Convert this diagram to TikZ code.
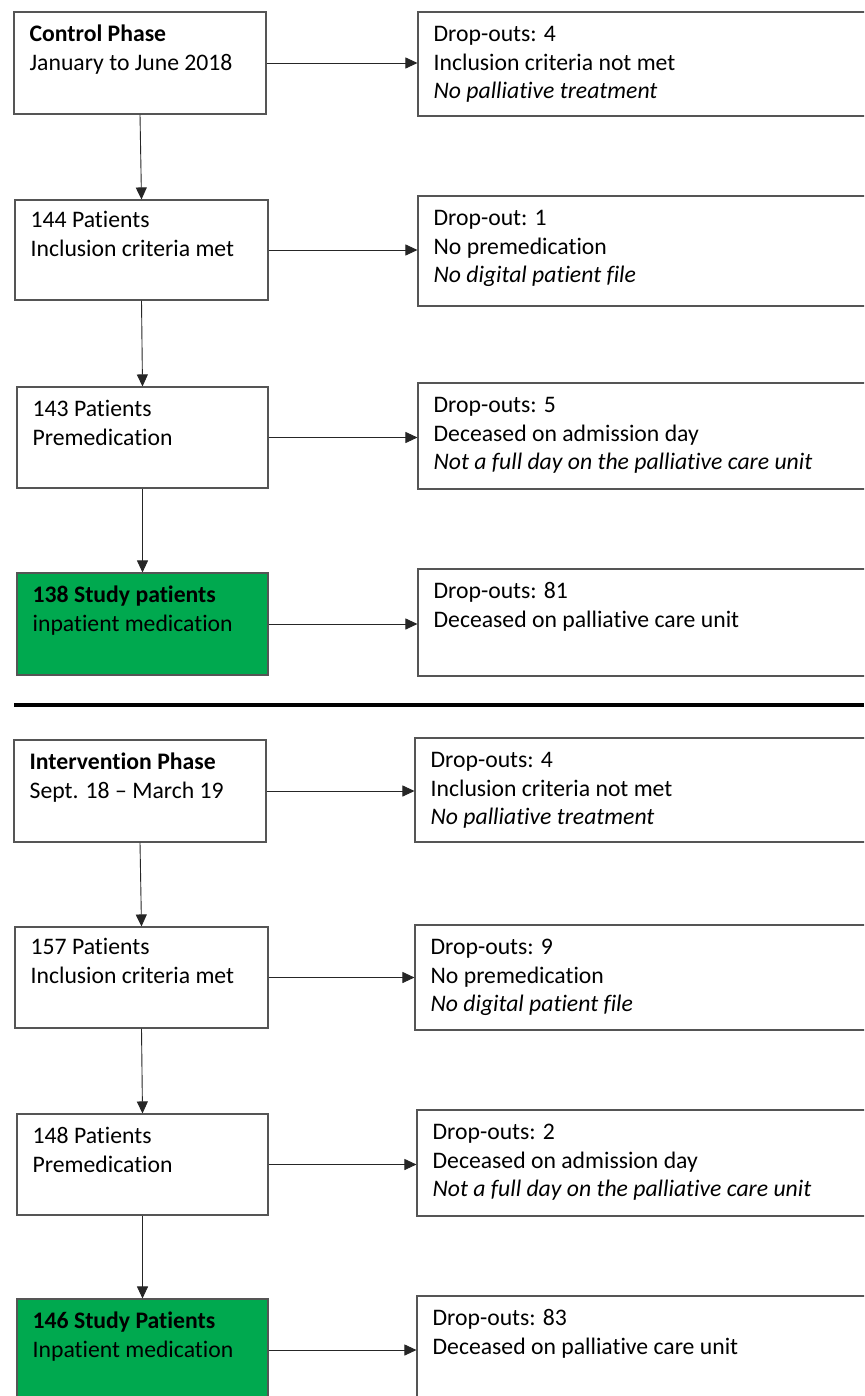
\documentclass[tikz,border=0pt]{standalone}
\usepackage{fontspec}
\setmainfont{Carlito}[Ligatures={NoCommon}]
\usetikzlibrary{arrows.meta,calc}
\definecolor{boxgreen}{HTML}{00A94F}
\definecolor{edgegray}{HTML}{555555}
\tikzset{
  box/.style={draw=edgegray, line width=1.1pt, rectangle, inner sep=0pt},
  greenbox/.style={box, fill=boxgreen},
  txt/.style={anchor=north west, inner sep=0pt, align=left, font=\fontsize{23.7}{28.5}\selectfont},
  conn/.style={draw=black!85, line width=0.9pt, -{Triangle[length=12pt,width=11pt]}},
}
\newcommand{\fl}{\rule{0pt}{20pt}}
\begin{document}
\begin{tikzpicture}[x=1pt,y=-1pt]
\useasboundingbox (0,0) rectangle (864,1396);
\clip (0,0) rectangle (864,1396);
\fill[white] (0,0) rectangle (864,1396);
% ---------- control phase ----------
\node[box, minimum width=252, minimum height=102] (c1) at (140,63) {};
\node[box, minimum width=253, minimum height=100] (c2) at (141.5,250) {};
\node[box, minimum width=251, minimum height=101] (c3) at (142.5,437.5) {};
\node[greenbox, minimum width=251, minimum height=102] (c4) at (142.5,624) {};
\node[box, minimum width=482, minimum height=104] (d1) at (659,64) {};
\node[box, minimum width=482, minimum height=110] (d2) at (659,251) {};
\node[box, minimum width=482, minimum height=106] (d3) at (659,436) {};
\node[box, minimum width=482, minimum height=107] (d4) at (659,622.5) {};
\node[txt] at ([shift={(16,10)}]c1.north west) {\fl\textbf{Control Phase}\\January to June 2018};
\node[txt] at ([shift={(16,8)}]c2.north west) {\fl 144 Patients\\Inclusion criteria met};
\node[txt] at ([shift={(16,10)}]c3.north west) {\fl 143 Patients\\Premedication};
\node[txt] at ([shift={(16,10)}]c4.north west) {\fl\textbf{138 Study patients}\\inpatient medication};
\node[txt] at ([shift={(16,10)}]d1.north west) {\fl Drop-outs: 4\\Inclusion criteria not met\\\textit{No palliative treatment}};
\node[txt] at ([shift={(16,10)}]d2.north west) {\fl Drop-out: 1\\No premedication\\\textit{No digital patient file}};
\node[txt] at ([shift={(16,10)}]d3.north west) {\fl Drop-outs: 5\\Deceased on admission day\\\textit{Not a full day on the palliative care unit}};
\node[txt] at ([shift={(16,10)}]d4.north west) {\fl Drop-outs: 81\\Deceased on palliative care unit};
\draw[conn] (c1.south) -- (c2.north);
\draw[conn] (c2.south) -- (c3.north);
\draw[conn] (c3.south) -- (c4.north);
\draw[conn] (c1.east) -- (c1.east -| d1.west);
\draw[conn] (c2.east) -- (c2.east -| d2.west);
\draw[conn] (c3.east) -- (c3.east -| d3.west);
\draw[conn] (c4.east) -- (c4.east -| d4.west);
% ---------- divider ----------
\coordinate (sl) at (14,705);
\coordinate (sr) at (864,705);
\draw[line width=4pt] (sl) -- (sr);
% ---------- intervention phase ----------
\node[box, minimum width=252, minimum height=102] (i1) at (140,791) {};
\node[box, minimum width=253, minimum height=101] (i2) at (141.5,977.5) {};
\node[box, minimum width=251, minimum height=101] (i3) at (142.5,1164.5) {};
\node[greenbox, minimum width=251, minimum height=102] (i4) at (142.5,1350) {};
\node[box, minimum width=485, minimum height=104] (e1) at (657.5,790) {};
\node[box, minimum width=485, minimum height=105] (e2) at (657.5,977.5) {};
\node[box, minimum width=483, minimum height=106] (e3) at (658.5,1163) {};
\node[box, minimum width=483, minimum height=108] (e4) at (658.5,1350) {};
\node[txt] at ([shift={(16,10)}]i1.north west) {\fl\textbf{Intervention Phase}\\Sept. 18 -- March 19};
\node[txt] at ([shift={(16,8)}]i2.north west) {\fl 157 Patients\\Inclusion criteria met};
\node[txt] at ([shift={(16,10)}]i3.north west) {\fl 148 Patients\\Premedication};
\node[txt] at ([shift={(16,10)}]i4.north west) {\fl\textbf{146 Study Patients}\\Inpatient medication};
\node[txt] at ([shift={(16,10)}]e1.north west) {\fl Drop-outs: 4\\Inclusion criteria not met\\\textit{No palliative treatment}};
\node[txt] at ([shift={(16,10)}]e2.north west) {\fl Drop-outs: 9\\No premedication\\\textit{No digital patient file}};
\node[txt] at ([shift={(16,10)}]e3.north west) {\fl Drop-outs: 2\\Deceased on admission day\\\textit{Not a full day on the palliative care unit}};
\node[txt] at ([shift={(16,10)}]e4.north west) {\fl Drop-outs: 83\\Deceased on palliative care unit};
\draw[conn] (i1.south) -- (i2.north);
\draw[conn] (i2.south) -- (i3.north);
\draw[conn] (i3.south) -- (i4.north);
\draw[conn] (i1.east) -- (i1.east -| e1.west);
\draw[conn] (i2.east) -- (i2.east -| e2.west);
\draw[conn] (i3.east) -- (i3.east -| e3.west);
\draw[conn] (i4.east) -- (i4.east -| e4.west);
\end{tikzpicture}
\end{document}
